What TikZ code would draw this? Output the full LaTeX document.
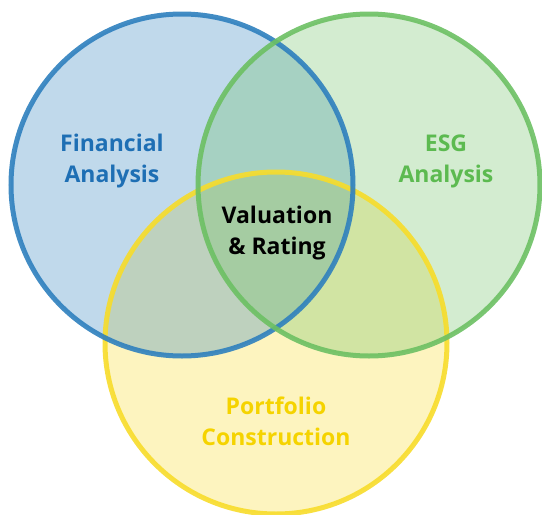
\documentclass[tikz,border=0pt]{standalone}
\usepackage{fontspec}
\setmainfont{Open Sans}
\usepackage{tikz}
\usetikzlibrary{positioning}

\definecolor{finblue}{HTML}{2E80BE}
\definecolor{esggreen}{HTML}{6CC063}
\definecolor{portyellow}{HTML}{F7DC2A}
\definecolor{fintext}{HTML}{1E6FB4}
\definecolor{esgtext}{HTML}{5CBA50}
\definecolor{porttext}{HTML}{F5D300}

\begin{document}
\begin{tikzpicture}[
    x=1pt, y=-1pt,
    set/.style={circle, fill=#1, fill opacity=0.3, minimum size=342pt, inner sep=0pt},
    ring/.style={draw=#1, draw opacity=0.9, line width=5pt},
    title/.style={align=center, font=\fontsize{23}{31}\selectfont\bfseries, text=#1}
]
    \useasboundingbox (0,0) rectangle (542,515);

    % SETS (fills first, outlines on top)
    \node[set=portyellow] (portfolio) at (276,343) {};
    \node[set=finblue] (financial) at (182,185) {};
    \node[set=esggreen] (esg) at (369,185) {};

    \draw[ring=portyellow] (portfolio) circle[radius=171];
    \draw[ring=finblue] (financial) circle[radius=171];
    \draw[ring=esggreen] (esg) circle[radius=171];

    % LABELS
    \node[title=fintext] (financial_label) at (112,161) {Financial\\Analysis};
    \node[title=esgtext] (esg_label) at (446,161) {ESG\\Analysis};
    \node[title=black] (valuation_label) at (277,233) {Valuation\\\& Rating};
    \node[title=porttext] (portfolio_label) at (276,421) {Portfolio\\Construction};

\end{tikzpicture}
\end{document}
